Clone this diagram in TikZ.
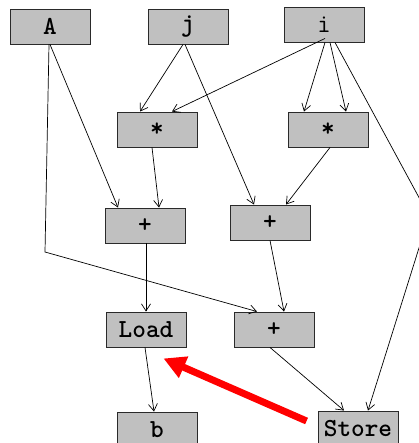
\documentclass[tikz,border=0pt]{standalone}
\usepackage{fontspec}
\usetikzlibrary{arrows.meta}
\definecolor{boxgray}{HTML}{C0C0C0}
\definecolor{boxline}{HTML}{2A2A2A}
\tikzset{
  opbox/.style={draw=boxline, line width=0.9pt, fill=boxgray, minimum width=80pt, minimum height=35pt, inner sep=0pt, font=\fontsize{26}{28}\selectfont\ttfamily\bfseries},
  lightbox/.style={opbox, font=\fontsize{26}{28}\selectfont\ttfamily},
  edge/.style={draw=black, line width=0.7pt, -{Straight Barb[length=7pt,width=9pt]}},
  plain/.style={draw=black, line width=0.7pt},
  redarrow/.style={draw=red, line width=7pt, -{Triangle[length=22pt,width=22pt]}}
}
\begin{document}
\begin{tikzpicture}[x=1pt,y=-1pt]
\useasboundingbox (0,0) rectangle (418,443);
\node[opbox] (A) at (50,26.5) {A};
\node[opbox] (j) at (188,26.5) {j};
\node[lightbox] (i) at (324,24.5) {i};
\node[opbox] (m1) at (157,129.5) {*};
\node[opbox] (m2) at (328,129.5) {*};
\node[opbox] (p1) at (145,225.5) {+};
\node[opbox] (p2) at (270,222.5) {+};
\node[opbox] (load) at (146,329.5) {Load};
\node[opbox] (p3) at (274,329.5) {+};
\node[opbox] (b) at (157,429.5) {b};
\node[opbox] (store) at (358,428.5) {Store};
\coordinate (aBend) at (45,252);
\coordinate (iBend) at (429,216);
% edges
\draw[edge] (A.south) -- ([xshift=-27pt]p1.north);
\draw[edge] ([xshift=-1pt]A.south) -- (aBend) -- ([xshift=-17pt]p3.north);
\draw[edge] ([xshift=-5pt]j.south) -- ([xshift=-17pt]m1.north);
\draw[edge] ([xshift=-3pt]j.south) -- ([xshift=-16pt]p2.north);
\draw[edge] ([xshift=1pt,yshift=4pt]i.south) -- ([xshift=15pt]m1.north);
\draw[edge] ([xshift=1pt]i.south) -- ([xshift=-24pt]m2.north);
\draw[edge] ([xshift=6pt]i.south) -- ([xshift=18pt]m2.north);
\draw[edge] ([xshift=11pt]i.south) -- (iBend) -- ([xshift=10pt]store.north);
\draw[edge] ([xshift=-5pt]m1.south) -- ([xshift=14pt]p1.north);
\draw[edge] ([xshift=2pt]m2.south) -- ([xshift=16pt]p2.north);
\draw[edge] ([xshift=1pt]p1.south) -- (load.north);
\draw[edge] (p2.south) -- ([xshift=10pt]p3.north);
\draw[edge] ([xshift=-1pt]load.south) -- ([xshift=-3pt]b.north);
\draw[edge] ([xshift=-4pt]p3.south) -- ([xshift=-14pt]store.north);
\draw[redarrow] ([shift={(-11,-7.5)}]store.west) -- ([shift={(-23,11)}]load.south east);
\end{tikzpicture}
\end{document}
